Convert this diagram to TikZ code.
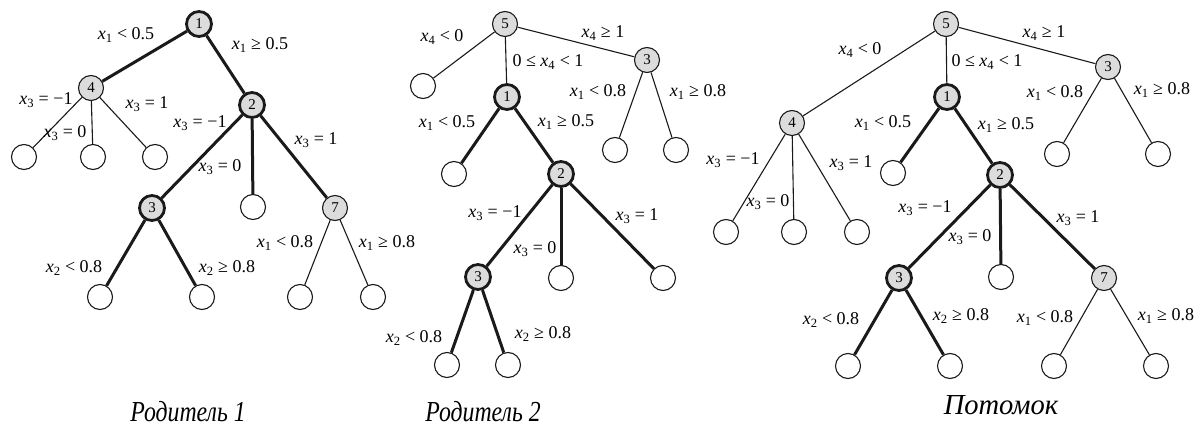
\documentclass[tikz,border=0pt]{standalone}
\usepackage{fontspec}
\setmainfont{Liberation Serif}
\usetikzlibrary{positioning}
\definecolor{ink}{HTML}{1A1A1A}
\definecolor{knot}{HTML}{DCDCDC}
\newcommand{\cnd}[3]{{\itshape x}\textsubscript{#1} #2 #3}

\begin{document}
\begin{tikzpicture}[x=1pt,y=-1pt,
  split/.style={circle,draw=ink,fill=knot,minimum size=25pt,inner sep=0pt,
                line width=1.1pt,font=\fontsize{15}{15}\selectfont},
  hot/.style={split,line width=2.8pt},
  leaf/.style={circle,draw=ink,fill=white,minimum size=25pt,inner sep=0pt,line width=1.1pt},
  thinedge/.style={draw=ink,line width=1.1pt},
  boldedge/.style={draw=ink,line width=3pt},
  cond/.style={font=\fontsize{18}{18}\selectfont,inner sep=0pt},
  treename/.style={font=\fontsize{29}{29}\selectfont\itshape,xscale=0.82}]
\useasboundingbox (0,0) rectangle (1197,436);

% Parent 1
\node[hot]   (a1)  at (199,24)  {1};
\node[split] (a4)  at (91,88)   {4};
\node[hot]   (a2)  at (252,105) {2};
\node[leaf]  (a4l) at (24,157)  {};
\node[leaf]  (a4m) at (93,157)  {};
\node[leaf]  (a4r) at (155,157) {};
\node[hot]   (a3)  at (152,208) {3};
\node[leaf]  (a2m) at (253,207) {};
\node[split] (a7)  at (335,208) {7};
\node[leaf]  (a3l) at (100,297) {};
\node[leaf]  (a3r) at (202,297) {};
\node[leaf]  (a7l) at (300,297) {};
\node[leaf]  (a7r) at (373,297) {};

\draw[boldedge] (a1) -- (a4);
\draw[boldedge] (a1) -- (a2);
\draw[thinedge] (a4) -- (a4l);
\draw[thinedge] (a4) -- (a4m);
\draw[thinedge] (a4) -- (a4r);
\draw[boldedge] (a2) -- (a3);
\draw[boldedge] (a2) -- (a2m);
\draw[boldedge] (a2) -- (a7);
\draw[boldedge] (a3) -- (a3l);
\draw[boldedge] (a3) -- (a3r);
\draw[thinedge] (a7) -- (a7l);
\draw[thinedge] (a7) -- (a7r);

\node[cond] (la1)  at (126,35)  {\cnd{1}{<}{0.5}};
\node[cond] (la2)  at (260,45)  {\cnd{1}{≥}{0.5}};
\node[cond] (la3)  at (46,100)  {\cnd{3}{=}{−1}};
\node[cond] (la4)  at (65,133)  {\cnd{3}{=}{0}};
\node[cond] (la5)  at (147,104) {\cnd{3}{=}{1}};
\node[cond] (la6)  at (200,123) {\cnd{3}{=}{−1}};
\node[cond] (la7)  at (220,167) {\cnd{3}{=}{0}};
\node[cond] (la8)  at (316,140) {\cnd{3}{=}{1}};
\node[cond] (la9)  at (74,268)  {\cnd{2}{<}{0.8}};
\node[cond] (la10) at (227,268) {\cnd{2}{≥}{0.8}};
\node[cond] (la11) at (285,243) {\cnd{1}{<}{0.8}};
\node[cond] (la12) at (387,243) {\cnd{1}{≥}{0.8}};

% Parent 2
\node[split] (b5)  at (505,24)  {5};
\node[leaf]  (b0)  at (423,86)  {};
\node[hot]   (b1)  at (507,97)  {1};
\node[split] (b3)  at (647,60)  {3};
\node[leaf]  (b3l) at (615,150) {};
\node[leaf]  (b3r) at (676,150) {};
\node[leaf]  (b1l) at (454,174) {};
\node[hot]   (b2)  at (561,174) {2};
\node[hot]   (b23) at (478,277) {3};
\node[leaf]  (b2m) at (561,278) {};
\node[leaf]  (b2r) at (663,278) {};
\node[leaf]  (b3a) at (447,365) {};
\node[leaf]  (b3b) at (508,365) {};

\draw[thinedge] (b5) -- (b0);
\draw[thinedge] (b5) -- (b1);
\draw[thinedge] (b5) -- (b3);
\draw[thinedge] (b3) -- (b3l);
\draw[thinedge] (b3) -- (b3r);
\draw[boldedge] (b1) -- (b1l);
\draw[boldedge] (b1) -- (b2);
\draw[boldedge] (b2) -- (b23);
\draw[boldedge] (b2) -- (b2m);
\draw[boldedge] (b2) -- (b2r);
\draw[boldedge] (b23) -- (b3a);
\draw[boldedge] (b23) -- (b3b);

\node[cond] (lb1)  at (442,37)  {\cnd{4}{<}{0}};
\node[cond] (lb2)  at (548,62)  {0 ≤ \cnd{4}{<}{1}};
\node[cond] (lb3)  at (603,33)  {\cnd{4}{≥}{1}};
\node[cond] (lb4)  at (598,92)  {\cnd{1}{<}{0.8}};
\node[cond] (lb5)  at (698,92)  {\cnd{1}{≥}{0.8}};
\node[cond] (lb6)  at (447,123) {\cnd{1}{<}{0.5}};
\node[cond] (lb7)  at (566,122) {\cnd{1}{≥}{0.5}};
\node[cond] (lb8)  at (495,213) {\cnd{3}{=}{−1}};
\node[cond] (lb9)  at (535,249) {\cnd{3}{=}{0}};
\node[cond] (lb10) at (637,216) {\cnd{3}{=}{1}};
\node[cond] (lb11) at (414,338) {\cnd{2}{<}{0.8}};
\node[cond] (lb12) at (543,334) {\cnd{2}{≥}{0.8}};

% Offspring
\node[split] (c5)  at (946,24)  {5};
\node[split] (c3)  at (1108,67) {3};
\node[hot]   (c1)  at (947,97)  {1};
\node[split] (c4)  at (792,123) {4};
\node[leaf]  (c3l) at (1057,154) {};
\node[leaf]  (c3r) at (1158,154) {};
\node[leaf]  (c1l) at (893,173) {};
\node[hot]   (c2)  at (1000,175) {2};
\node[leaf]  (c4l) at (726,232) {};
\node[leaf]  (c4m) at (794,232) {};
\node[leaf]  (c4r) at (857,232) {};
\node[hot]   (c23) at (899,278) {3};
\node[leaf]  (c2m) at (1001,277) {};
\node[split] (c7)  at (1104,278) {7};
\node[leaf]  (c3a) at (848,366) {};
\node[leaf]  (c3b) at (950,366) {};
\node[leaf]  (c7l) at (1054,366) {};
\node[leaf]  (c7r) at (1156,366) {};

\draw[thinedge] (c5) -- (c4);
\draw[thinedge] (c5) -- (c1);
\draw[thinedge] (c5) -- (c3);
\draw[thinedge] (c3) -- (c3l);
\draw[thinedge] (c3) -- (c3r);
\draw[thinedge] (c4) -- (c4l);
\draw[thinedge] (c4) -- (c4m);
\draw[thinedge] (c4) -- (c4r);
\draw[boldedge] (c1) -- (c1l);
\draw[boldedge] (c1) -- (c2);
\draw[boldedge] (c2) -- (c23);
\draw[boldedge] (c2) -- (c2m);
\draw[boldedge] (c2) -- (c7);
\draw[boldedge] (c23) -- (c3a);
\draw[boldedge] (c23) -- (c3b);
\draw[thinedge] (c7) -- (c7l);
\draw[thinedge] (c7) -- (c7r);

\node[cond] (lc1)  at (860,50)   {\cnd{4}{<}{0}};
\node[cond] (lc2)  at (987,62)   {0 ≤ \cnd{4}{<}{1}};
\node[cond] (lc3)  at (1044,33)  {\cnd{4}{≥}{1}};
\node[cond] (lc4)  at (1055,93)  {\cnd{1}{<}{0.8}};
\node[cond] (lc5)  at (1162,90)  {\cnd{1}{≥}{0.8}};
\node[cond] (lc6)  at (883,123)  {\cnd{1}{<}{0.5}};
\node[cond] (lc7)  at (1006,125) {\cnd{1}{≥}{0.5}};
\node[cond] (lc8)  at (733,160)  {\cnd{3}{=}{−1}};
\node[cond] (lc9)  at (851,163)  {\cnd{3}{=}{1}};
\node[cond] (lc10) at (768,202)  {\cnd{3}{=}{0}};
\node[cond] (lc11) at (925,208)  {\cnd{3}{=}{−1}};
\node[cond] (lc12) at (970,237)  {\cnd{3}{=}{0}};
\node[cond] (lc13) at (1078,218) {\cnd{3}{=}{1}};
\node[cond] (lc14) at (831,320)  {\cnd{2}{<}{0.8}};
\node[cond] (lc15) at (961,316)  {\cnd{2}{≥}{0.8}};
\node[cond] (lc16) at (1045,318) {\cnd{1}{<}{0.8}};
\node[cond] (lc17) at (1166,316) {\cnd{1}{≥}{0.8}};

\node[treename] (t1) at (188,412)  {Родитель 1};
\node[treename] (t2) at (483,412)  {Родитель 2};
\node[treename,xscale=1.2] (t3) at (1001,405) {Потомок};
\end{tikzpicture}
\end{document}
